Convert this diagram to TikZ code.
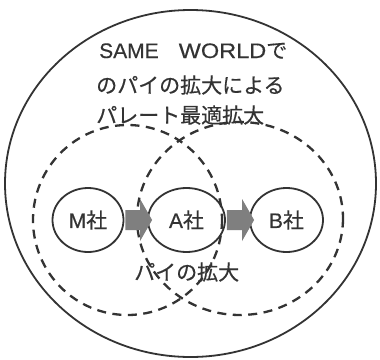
\documentclass[tikz,border=0pt]{standalone}
\usepackage{fontspec}
\usepackage{graphicx}
\newfontfamily\jp[FakeBold=0.4]{Noto Sans CJK JP}
\newfontfamily\lat[FakeBold=0.4]{Liberation Sans}
\usetikzlibrary{calc,shapes.geometric}
\definecolor{ink}{HTML}{333333}
\definecolor{arrowgray}{HTML}{7f7f7f}
\tikzset{
  firm/.style={draw=ink, line width=1.8pt, ellipse, minimum width=#1, minimum height=64pt, inner sep=0pt, font=\fontsize{21}{21}\selectfont, text=ink},
  pie/.style={draw=ink, line width=2.3pt, dash pattern=on 9pt off 6.5pt},
  flow/.style={fill=arrowgray, draw=none},
  lbl/.style={anchor=base west, inner sep=0pt, font=\fontsize{21}{21}\selectfont, text=ink}
}
\newcommand{\blockarrow}[2]{%
  \path[flow] ($(#1.east)+(1,-10)$) -- ($(#2.west)+(-7,-10)$) -- ($(#2.west)+(-7,-21)$)
    -- ($(#2.west)+(5,0)$) -- ($(#2.west)+(-7,21)$) -- ($(#2.west)+(-7,10)$)
    -- ($(#1.east)+(1,10)$) -- cycle;}
\begin{document}
\begin{tikzpicture}[x=1pt,y=-1pt]
\useasboundingbox (0,0) rectangle (380,359);
\fill[white] (0,0) rectangle (380,359);
% outer world
\draw[ink, line width=1.8pt] (190.5,183.5) ellipse [x radius=185.5, y radius=173.5];
% pies
\draw[pie] (127.5,220) ellipse [x radius=94.5, y radius=95];
\draw[pie] (240,218.5) ellipse [x radius=103, y radius=96.5];
% firms
\node[firm=71pt] (M) at (88,220) {{\lat M}{\jp 社}};
\node[firm=77pt] (A) at (186.5,220) {{\lat A}{\jp 社}};
\node[firm=73pt] (B) at (286.5,220) {{\lat B}{\jp 社}};
% arrows
\blockarrow{M}{A}
\blockarrow{A}{B}
% title text
\node[lbl] (t1) at (99,58) {{\lat SAME}\hspace{20pt}{\lat\scalebox{1.12}[1]{WORLD}}{\jp で}};
\node[lbl] (t2) at (96,93) {\jp のパイの拡大による};
\node[lbl] (t3) at (96,123) {\jp パレート最適拡大};
\node[lbl] (t4) at (134,280) {\jp パイの拡大};
\end{tikzpicture}
\end{document}
